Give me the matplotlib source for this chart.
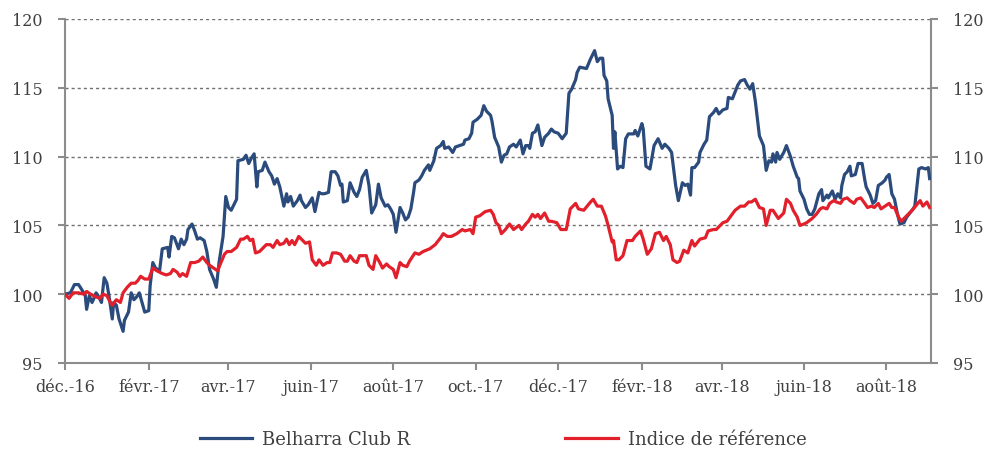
import numpy as np
import matplotlib
matplotlib.use("Agg")
import matplotlib.pyplot as plt
import matplotlib.dates as mdates

# ---------------- data ----------------
start_date = "2016-12-01"
# days since 2016-12-01
belharra_days = [0, 4, 7, 10, 12, 15, 16, 18, 20, 21, 23, 25, 27, 29, 31, 33, 35, 36, 38, 40, 43, 44, 47, 49, 51, 53, 55, 57, 59, 62,
    63, 65, 67, 70, 72, 76, 77, 79, 81, 84, 86, 88, 90, 91, 94, 96, 98, 100, 103, 105, 107, 110, 112, 114, 117, 119, 121, 123, 127, 128,
    132, 134, 136, 138, 140, 142, 143, 146, 148, 151, 153, 155, 157, 159, 162, 164, 165, 167, 169, 172, 174, 175, 178, 180, 183, 185, 188, 190, 192, 195,
    197, 200, 202, 204, 205, 206, 209, 211, 214, 216, 218, 220, 223, 225, 227, 230, 232, 234, 237, 239, 241, 243, 245, 248, 250, 252, 254, 256, 258, 259,
    262, 264, 266, 269, 270, 273, 275, 278, 280, 281, 284, 287, 289, 292, 295, 296, 299, 301, 302, 305, 308, 310, 312, 315, 316, 318, 321, 323, 325, 327,
    329, 332, 334, 337, 339, 341, 343, 344, 346, 348, 350, 353, 355, 358, 360, 362, 365, 368, 371, 373, 375, 378, 379, 381, 386, 389, 392, 394, 396, 398,
    399, 401, 402, 405, 406, 407, 409, 411, 413, 415, 417, 421, 422, 424, 427, 428, 430, 433, 436, 439, 442, 444, 447, 449, 452, 454, 457, 459, 461, 463,
    464, 466, 469, 470, 473, 475, 477, 480, 482, 484, 487, 490, 491, 494, 496, 498, 500, 503, 505, 507, 509, 511, 514, 517, 519, 521, 523, 524, 526, 527,
    529, 532, 534, 537, 539, 542, 543, 544, 547, 549, 551, 553, 555, 558, 560, 561, 564, 565, 568, 570, 572, 574, 575, 577, 579, 581, 582, 585, 587, 590,
    592, 593, 596, 598, 600, 602, 605, 607, 608, 610, 612, 614, 616, 618, 621, 623, 627, 629, 632, 634, 637, 639, 640]
belharra_values = [100.0, 100.1, 100.7, 100.7, 100.4, 99.9, 98.9, 99.9, 99.4, 99.6, 100.1, 99.8, 99.4, 101.2, 100.8, 99.6, 98.2, 99.4, 99.2, 98.2, 97.3, 98.1, 98.7, 100.1, 99.6, 99.8, 100.1, 99.4, 98.7, 98.8,
    100.6, 102.3, 101.9, 101.7, 103.3, 103.4, 102.7, 104.2, 104.1, 103.3, 104.0, 103.6, 104.0, 104.7, 105.1, 104.6, 104.0, 104.1, 103.9, 103.1, 101.8, 101.1, 100.5, 102.3, 104.2, 107.1, 106.3, 106.1, 106.9, 109.7,
    109.8, 110.1, 109.5, 109.9, 110.2, 107.8, 108.9, 109.0, 109.6, 108.9, 108.6, 108.0, 108.4, 107.8, 106.4, 107.3, 106.7, 107.1, 106.4, 106.8, 107.2, 106.8, 106.3, 106.5, 107.0, 106.0, 107.4, 107.3, 107.3, 107.4,
    108.9, 108.9, 108.6, 107.9, 108.0, 106.7, 106.8, 108.1, 107.4, 107.1, 107.6, 108.5, 109.0, 107.9, 105.9, 106.5, 108.0, 107.0, 106.4, 106.5, 106.2, 105.8, 104.5, 106.3, 105.9, 105.4, 105.6, 106.2, 107.4, 108.1,
    108.3, 108.6, 109.0, 109.4, 109.0, 109.7, 110.6, 110.8, 111.1, 110.6, 110.7, 110.3, 110.7, 110.8, 110.9, 111.2, 111.3, 111.7, 112.5, 112.7, 113.0, 113.7, 113.3, 113.0, 112.6, 111.4, 110.7, 109.6, 110.1, 110.2,
    110.7, 110.9, 110.7, 111.2, 110.2, 110.8, 110.8, 110.6, 111.7, 111.8, 112.3, 110.8, 111.4, 111.7, 112.0, 111.8, 111.7, 111.3, 111.7, 114.6, 114.9, 115.6, 116.1, 116.5, 116.4, 117.1, 117.7, 116.9, 117.15, 117.15,
    115.9, 115.5, 114.2, 113.0, 110.6, 111.8, 109.1, 109.3, 109.2, 111.3, 111.65, 111.65, 111.9, 111.5, 112.4, 112.0, 109.3, 109.1, 110.8, 111.3, 110.6, 110.9, 110.6, 110.3, 107.9, 106.8, 108.1, 107.9, 108.0, 107.2,
    109.2, 109.2, 109.6, 110.3, 110.9, 111.2, 112.9, 113.2, 113.5, 113.1, 113.4, 113.5, 114.3, 114.2, 114.7, 115.2, 115.5, 115.6, 115.2, 114.9, 115.3, 114.0, 111.5, 110.8, 109.0, 109.7, 109.6, 110.2, 109.6, 110.3,
    109.8, 110.3, 110.8, 110.0, 109.3, 108.5, 108.4, 107.5, 106.9, 106.2, 105.8, 105.8, 106.2, 107.3, 107.6, 106.8, 107.2, 107.0, 107.5, 106.9, 107.3, 107.0, 107.9, 108.7, 108.9, 109.3, 108.6, 108.7, 109.5, 109.5,
    108.3, 107.8, 107.2, 106.6, 106.8, 107.9, 108.1, 108.3, 108.5, 108.7, 107.3, 106.9, 105.9, 105.1, 105.2, 105.6, 106.1, 106.4, 109.1, 109.2, 109.1, 109.2, 108.4]

indice_days = [0, 3, 6, 10, 14, 16, 19, 21, 23, 26, 28, 31, 33, 35, 38, 41, 43, 46, 49, 52, 54, 56, 59, 62, 65, 68, 72, 75, 78, 80,
    83, 85, 87, 90, 93, 96, 99, 102, 105, 107, 110, 113, 115, 118, 120, 123, 127, 130, 132, 135, 137, 139, 141, 144, 147, 149, 152, 154, 157, 159,
    162, 164, 166, 168, 170, 173, 176, 178, 181, 183, 186, 188, 191, 194, 196, 198, 201, 204, 207, 209, 211, 214, 216, 218, 221, 223, 225, 228, 230, 233,
    235, 238, 240, 243, 245, 248, 250, 253, 255, 259, 262, 265, 270, 274, 278, 280, 283, 286, 290, 294, 296, 300, 302, 304, 307, 311, 315, 317, 319, 321,
    323, 326, 329, 332, 336, 338, 341, 343, 346, 348, 350, 352, 355, 358, 360, 364, 367, 371, 374, 378, 380, 384, 389, 391, 394, 397, 400, 402, 405, 406,
    408, 410, 413, 416, 420, 422, 426, 428, 431, 434, 437, 440, 443, 445, 448, 450, 453, 455, 458, 461, 464, 466, 470, 474, 476, 480, 482, 485, 487, 490,
    493, 496, 500, 503, 506, 508, 511, 514, 517, 519, 522, 524, 528, 532, 534, 537, 539, 542, 544, 547, 549, 553, 556, 559, 561, 564, 566, 569, 571, 574,
    576, 579, 581, 584, 586, 589, 592, 594, 597, 599, 602, 604, 607, 610, 612, 614, 617, 619, 622, 624, 628, 632, 633, 635, 638, 640]
indice_values = [100.0, 99.7, 100.1, 100.1, 100.0, 100.2, 100.0, 99.9, 99.8, 99.7, 100.0, 99.9, 99.5, 99.2, 99.6, 99.4, 100.1, 100.5, 100.8, 100.8, 101.0, 101.3, 101.1, 101.1, 101.9, 101.7, 101.5, 101.4, 101.5, 101.8,
    101.6, 101.3, 101.5, 101.3, 102.3, 102.3, 102.4, 102.7, 102.3, 102.1, 101.9, 101.7, 102.2, 102.9, 103.1, 103.1, 103.4, 104.0, 104.0, 104.2, 103.9, 104.0, 103.0, 103.1, 103.4, 103.6, 103.6, 103.4, 103.9, 103.6,
    103.7, 104.0, 103.6, 103.9, 103.6, 104.2, 103.9, 103.7, 103.8, 102.5, 102.1, 102.5, 102.1, 102.3, 102.3, 103.0, 103.0, 102.9, 102.4, 102.4, 102.8, 102.4, 102.3, 102.8, 102.8, 102.8, 102.1, 101.8, 102.8, 102.3,
    101.9, 102.2, 102.0, 101.8, 101.2, 102.3, 102.1, 102.0, 102.4, 103.0, 102.9, 103.1, 103.3, 103.6, 104.1, 104.4, 104.2, 104.2, 104.4, 104.7, 104.6, 104.7, 104.4, 105.6, 105.7, 106.0, 106.1, 105.8, 105.2, 105.0,
    104.4, 104.7, 105.1, 104.7, 105.0, 104.7, 105.1, 105.3, 105.8, 105.6, 105.8, 105.5, 105.9, 105.3, 105.3, 105.2, 104.7, 104.7, 106.2, 106.6, 106.2, 106.1, 106.7, 106.9, 106.4, 106.4, 105.7, 105.0, 103.8, 103.9,
    102.5, 102.5, 102.8, 103.9, 103.9, 104.2, 104.6, 104.0, 102.9, 103.3, 104.4, 104.5, 103.9, 104.2, 103.6, 102.5, 102.3, 102.4, 103.2, 103.0, 103.9, 103.5, 104.0, 104.1, 104.6, 104.7, 104.7, 105.0, 105.2, 105.3,
    105.7, 106.1, 106.4, 106.4, 106.7, 106.7, 106.9, 106.3, 106.2, 105.0, 106.1, 106.1, 105.5, 105.9, 106.9, 106.6, 106.1, 105.6, 105.0, 105.1, 105.2, 105.5, 105.8, 106.2, 106.3, 106.2, 106.6, 106.8, 106.7, 106.6,
    106.9, 107.0, 106.8, 106.6, 106.9, 107.0, 106.6, 106.3, 106.4, 106.3, 106.6, 106.2, 106.4, 106.6, 106.3, 106.3, 105.6, 105.3, 105.6, 105.8, 106.2, 106.7, 106.8, 106.4, 106.7, 106.3]

series_names = ["Belharra Club R", "Indice de référence"]
tick_dates = ["2016-12-01", "2017-02-01", "2017-04-01", "2017-06-01", "2017-08-01", "2017-10-01",
              "2017-12-01", "2018-02-01", "2018-04-01", "2018-06-01", "2018-08-01"]
tick_labels = ["déc.-16", "févr.-17", "avr.-17", "juin-17", "août-17", "oct.-17",
               "déc.-17", "févr.-18", "avr.-18", "juin-18", "août-18"]
y_ticks = [95, 100, 105, 110, 115, 120]
x_end_days = 641

# ---------------- plot ----------------
plt.rcParams['font.family'] = ['DejaVu Serif']
BLUE = "#2A4B7C"
RED = "#E2202C"
GRAY = "#8C8C8C"
TXT = "#404040"

base = np.datetime64(start_date)
bx = base + np.array(belharra_days).astype('timedelta64[D]')
ix = base + np.array(indice_days).astype('timedelta64[D]')

fig = plt.figure(figsize=(9.87, 4.52), dpi=100)
ax = fig.add_axes([65/987, 1-364/452, (931-65)/987, (364-20)/452])

for yv in y_ticks[1:]:
    ax.axhline(yv, color="#707070", lw=1.0, ls=(0, (2.2, 2.2)), zorder=1)

ax.plot(bx, belharra_values, color=BLUE, lw=2.3, label=series_names[0], zorder=3, solid_joinstyle='round')
ax.plot(ix, indice_values, color=RED, lw=2.3, label=series_names[1], zorder=4, solid_joinstyle='round')

ax.set_ylim(95, 120)
ax.set_xlim(base, base + np.timedelta64(x_end_days, 'D'))
ax.set_yticks(y_ticks)
ax.set_yticklabels([str(v) for v in y_ticks])
ax.set_xticks([np.datetime64(d) for d in tick_dates])
ax.set_xticklabels(tick_labels)

for s in ['top']:
    ax.spines[s].set_visible(False)
for s in ['left', 'right', 'bottom']:
    ax.spines[s].set_color(GRAY)
    ax.spines[s].set_linewidth(1.5)

ax.tick_params(axis='y', which='both', left=True, right=True, labelleft=True, labelright=True,
               direction='out', length=5, width=1.5, color=GRAY, pad=11, labelsize=11.5, labelcolor=TXT)
ax.tick_params(axis='x', direction='out', length=5, width=1.5, color=GRAY, pad=6, labelsize=11.5, labelcolor=TXT)

leg = fig.legend(loc='center', bbox_to_anchor=(503/987, 1-440/452), ncol=2, frameon=False,
                 handlelength=2.9, handletextpad=0.55, columnspacing=8.6, fontsize=13)
for t in leg.get_texts():
    t.set_color(TXT)

fig.savefig("out.png", dpi=100)
